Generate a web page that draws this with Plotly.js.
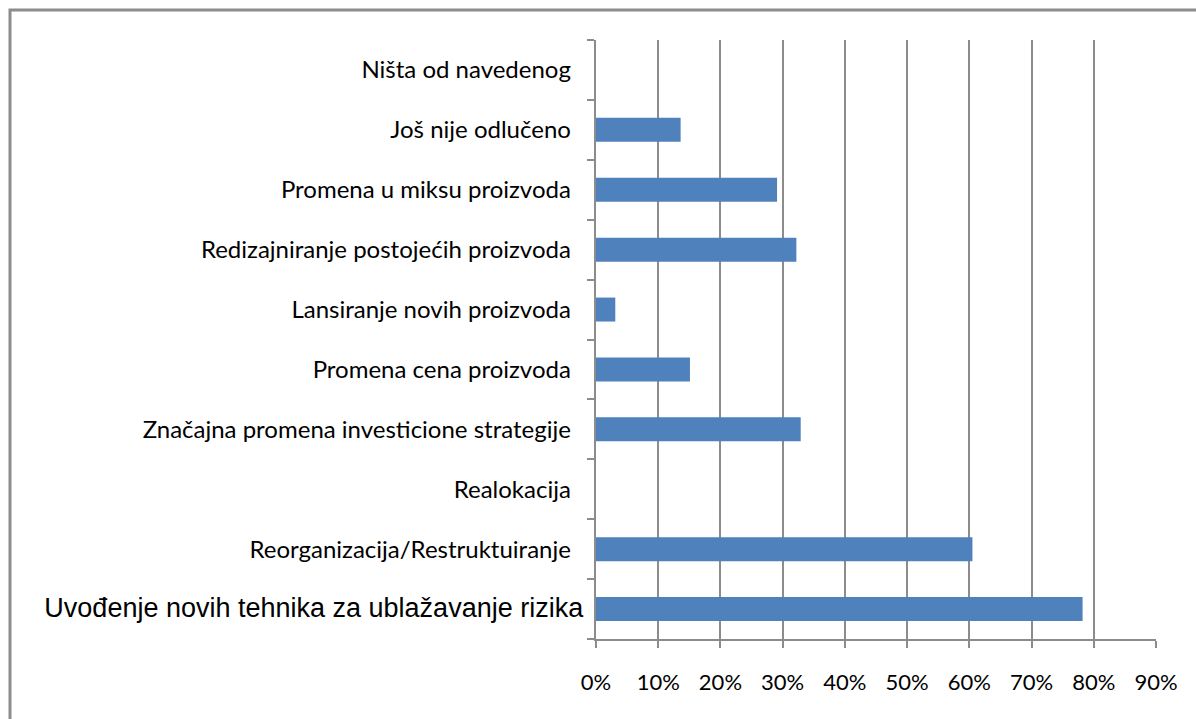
<!DOCTYPE html>
<html>
<head>
<meta charset="utf-8">
<script src="https://cdn.plot.ly/plotly-3.0.1.min.js"></script>
<style>
  body { margin: 0; background: #fff; }
  #chart { width: 1196px; height: 719px; }
</style>
</head>
<body>
<div id="chart"></div>
<script>
// categories from bottom to top
const categories = [
  'Uvođenje novih tehnika za ublažavanje rizika',
  'Reorganizacija/Restruktuiranje',
  'Realokacija',
  'Značajna promena investicione strategije',
  'Promena cena proizvoda',
  'Lansiranje novih proizvoda',
  'Redizajniranje postojećih proizvoda',
  'Promena u miksu proizvoda',
  'Još nije odlučeno',
  'Ništa od navedenog'
];
const shares = [0.782, 0.605, 0, 0.329, 0.151, 0.031, 0.322, 0.291, 0.136, 0];
const xTickVals = [0, 0.1, 0.2, 0.3, 0.4, 0.5, 0.6, 0.7, 0.8, 0.9];

// first label is set in a different font (and sits closer to the axis) in the original
const tickText = categories.map((c, i) => i === 0
  ? '<span style="font-family:Liberation Sans, Arial, sans-serif;font-size:27px">' + c + '</span>'
  : c + '&nbsp;&nbsp;');

const trace = {
  type: 'bar',
  orientation: 'h',
  y: categories,
  x: shares,
  width: 0.4,
  marker: { color: '#4f81bd', line: { width: 0 } },
  hoverinfo: 'x+y'
};

const gridGrey = '#8c8c8c';

const layout = {
  width: 1196,
  height: 719,
  margin: { l: 596, r: 40, t: 40, b: 80 },
  paper_bgcolor: '#fff',
  plot_bgcolor: '#fff',
  showlegend: false,
  font: { family: 'Lato, "Open Sans", sans-serif', size: 24, color: '#000' },
  xaxis: {
    range: [0, 0.9],
    tickvals: xTickVals,
    tickformat: '.0%',
    showgrid: true,
    gridcolor: gridGrey,
    gridwidth: 2,
    zeroline: false,
    showline: true,
    linecolor: gridGrey,
    linewidth: 2,
    ticks: 'outside',
    ticklen: 7,
    tickwidth: 2,
    tickcolor: gridGrey,
    ticklabelstandoff: 16,
    tickfont: { size: 22 },
    fixedrange: true
  },
  yaxis: {
    type: 'category',
    categoryorder: 'array',
    categoryarray: categories,
    tickvals: categories,
    ticktext: tickText,
    range: [-0.5, categories.length - 0.5],
    tickson: 'boundaries',
    ticks: 'outside',
    ticklen: 7,
    tickwidth: 2,
    tickcolor: gridGrey,
    showline: true,
    linecolor: gridGrey,
    linewidth: 2,
    showgrid: false,
    ticklabelstandoff: 6,
    tickfont: { size: 24 },
    fixedrange: true
  },
  shapes: [{
    // outer chart frame, only its left and top edges fall inside the window
    type: 'rect',
    xref: 'paper', yref: 'paper',
    x0: (10 - 596) / 560, x1: 1.2,
    y0: -0.3, y1: 1 + 30 / 599,
    line: { color: gridGrey, width: 3 },
    fillcolor: 'rgba(0,0,0,0)'
  }]
};

Plotly.newPlot('chart', [trace], layout, { displayModeBar: false, staticPlot: true });
</script>
</body>
</html>
